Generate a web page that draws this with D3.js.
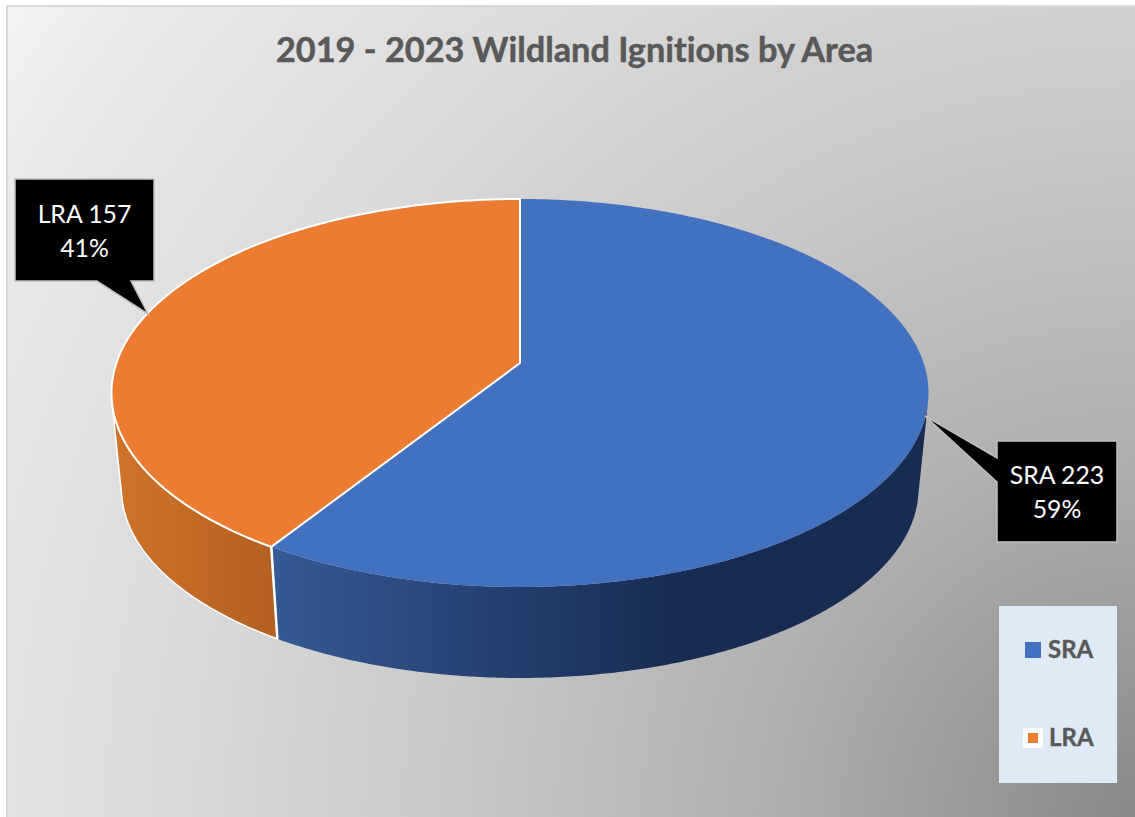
<!DOCTYPE html>
<html>
<head>
<meta charset="utf-8">
<script src="https://cdn.jsdelivr.net/npm/d3@7"></script>
<style>
html, body { margin: 0; padding: 0; background: #fff; }
text { font-family: Lato, "Open Sans", sans-serif; font-variant-ligatures: none; }
</style>
</head>
<body>
<div id="chart"></div>
<script>
var categories = ["SRA", "LRA"];
var counts = [223, 157];
//the slices follow the printed percentages
var shares = [59, 41];
var chartTitle = "2019 - 2023 Wildland Ignitions by Area";
var colors = ["#4271C0", "#EB7C31"];

var width = 1135, height = 817;

//pie geometry
var cx = 520, apexY = 363, backY = 199, frontY = 587, ellipseRx = 408.5;
var frontDist = frontY - apexY, backDist = apexY - backY;
var k = (frontDist - backDist) / (frontDist + backDist);
var scaleY = frontDist * (1 - k);
var scaleX = ellipseRx * Math.sqrt(1 - k * k);

//lower face of the slab is a bit smaller, it runs toward a far vanishing point
var vanishY = 4300, depthT = 0.0245;

//angle 0 = top, clockwise, same as d3.pie
function topPoint(a)
{
    var u = Math.sin(a), v = -Math.cos(a);
    var w = 1 - k * v;
    return [cx + scaleX * u / w, apexY + scaleY * v / w];
}
function bottomPoint(a)
{
    var p = topPoint(a);
    return [p[0] + depthT * (cx - p[0]), p[1] + depthT * (vanishY - p[1])];
}
function samples(a0, a1)
{
    var n = Math.ceil(Math.abs(a1 - a0) / 0.01);
    return d3.range(n + 1).map(function(i){ return a0 + (a1 - a0) * i / n; });
}
//is the wall at this angle turned toward the viewer
function facesViewer(a)
{
    var p = topPoint(a), next = topPoint(a + 0.001), q = bottomPoint(a);
    return (next[0] - p[0]) * (q[1] - p[1]) - (next[1] - p[1]) * (q[0] - p[0]) < 0;
}

var svg = d3.select("#chart").append("svg")
    .attr("width", width)
    .attr("height", height)
    .style("display", "block");

var defs = svg.append("defs");

function addGradient(type, id, attrs, stops)
{
    var g = defs.append(type).attr("id", id);
    Object.keys(attrs).forEach(function(key){ g.attr(key, attrs[key]); });
    stops.forEach(function(s){
        g.append("stop").attr("offset", s[0]).attr("stop-color", s[1]);
    });
}

//background is darkest in the lower right corner and fades out from there
addGradient("radialGradient", "bg", {gradientUnits: "userSpaceOnUse", cx: 1135, cy: 817, r: 1390},
    [[0, "#888888"], [0.27, "#B0B0B0"], [0.5, "#C9C9C9"], [0.61, "#D2D2D2"],
     [0.68, "#D9D9D9"], [0.81, "#E2E2E2"], [0.92, "#EAEAEA"], [1, "#F3F3F3"]]);
addGradient("linearGradient", "sideBlue", {gradientUnits: "userSpaceOnUse", x1: 277, y1: 0, x2: 680, y2: 0},
    [[0, "#355993"], [1, "#182B52"]]);
addGradient("linearGradient", "sideOrange", {gradientUnits: "userSpaceOnUse", x1: 113, y1: 0, x2: 277, y2: 0},
    [[0, "#D0732A"], [1, "#B26021"]]);

//chart area
svg.append("rect")
    .attr("x", 7).attr("y", 6)
    .attr("width", width - 6).attr("height", height - 5)
    .attr("fill", "url(#bg)")
    .attr("stroke", "#D9D9D9")
    .attr("stroke-width", 2);

svg.append("text")
    .attr("x", 574.5).attr("y", 62)
    .attr("text-anchor", "middle")
    .attr("font-size", 34.3)
    .attr("font-weight", 700)
    .attr("fill", "#595959")
    .attr("stroke", "#595959")
    .attr("stroke-width", 0.5)
    .text(chartTitle);

var arcs = d3.pie().sort(null)(shares);
var line = d3.line();

//walls first, only the part that faces the viewer
var sideFill = ["url(#sideBlue)", "url(#sideOrange)"];
var sideStroke = [null, "#fff"];
arcs.forEach(function(d, i){
    var angles = samples(d.startAngle, d.endAngle).filter(facesViewer);
    var pts = angles.map(topPoint).concat(angles.slice().reverse().map(bottomPoint));
    svg.append("path")
        .attr("d", line(pts) + "Z")
        .attr("fill", sideFill[i])
        .attr("stroke", sideStroke[i])
        .attr("stroke-width", 1.5);
});

//seam between the two walls
svg.append("path")
    .attr("d", line([topPoint(arcs[1].startAngle), bottomPoint(arcs[1].startAngle)]))
    .attr("stroke", "#fff")
    .attr("stroke-width", 2.5);

//top faces
var faceStroke = ["none", "#fff"];
arcs.forEach(function(d, i){
    var pts = samples(d.startAngle, d.endAngle).map(topPoint);
    pts.push([cx, apexY]);
    svg.append("path")
        .attr("d", line(pts) + "Z")
        .attr("fill", colors[i])
        .attr("stroke", faceStroke[i])
        .attr("stroke-width", 2)
        .attr("stroke-linejoin", "round");
});

//callouts: box, then the tail up to the slice edge
var callouts = [
    {x: 997, y: 441, w: 120, h: 101, tail: [[997, 458], [925, 416], [997, 482]], base: 43},
    {x: 15, y: 179, w: 139, h: 102, tail: [[131, 281], [148, 314], [97, 281]], base: 44}
];
callouts.forEach(function(c, i){
    var b = [[c.x, c.y], [c.x + c.w, c.y], [c.x + c.w, c.y + c.h], [c.x, c.y + c.h]];
    var shape;
    if(i == 0)
        shape = [b[0], b[1], b[2], b[3]].concat(c.tail.slice().reverse());
    else
        shape = [b[0], b[1], b[2]].concat(c.tail).concat([b[3]]);
    svg.append("path")
        .attr("d", line(shape) + "Z")
        .attr("fill", "#000")
        .attr("stroke", "#BFBFBF")
        .attr("stroke-width", 1.5);
    var tx = c.x + c.w / 2;
    svg.append("text")
        .attr("x", tx).attr("y", c.y + c.base)
        .attr("text-anchor", "middle")
        .attr("font-size", 24.8)
        .attr("fill", "#fff")
        .text(categories[i] + " " + counts[i]);
    svg.append("text")
        .attr("x", tx).attr("y", c.y + c.base + 34)
        .attr("text-anchor", "middle")
        .attr("font-size", 24.8)
        .attr("fill", "#fff")
        .text(shares[i] + "%");
});

//legend
svg.append("rect")
    .attr("x", 999).attr("y", 606)
    .attr("width", 118).attr("height", 177)
    .attr("fill", "#DEEAF6");

var legendY = d3.scalePoint().domain(categories).range([650, 738]);
var legend = svg.selectAll("g.legend")
    .data(categories)
    .enter()
    .append("g")
    .attr("class", "legend")
    .attr("transform", function(d){ return "translate(0," + legendY(d) + ")"; });

//LRA marker sits on a white selection handle
legend.filter(function(d, i){ return i == 1; })
    .append("rect")
    .attr("x", 1023).attr("y", -10)
    .attr("width", 20).attr("height", 20)
    .attr("rx", 3)
    .attr("fill", "#fff");

legend.append("rect")
    .attr("x", function(d, i){ return i == 0 ? 1025 : 1028; })
    .attr("y", function(d, i){ return i == 0 ? -8 : -5; })
    .attr("width", function(d, i){ return i == 0 ? 16 : 10; })
    .attr("height", function(d, i){ return i == 0 ? 16 : 10; })
    .attr("fill", function(d, i){ return colors[i]; });

legend.append("text")
    .attr("x", function(d, i){ return i == 0 ? 1048 : 1049; })
    .attr("y", 8)
    .attr("font-size", 24)
    .attr("font-weight", 700)
    .attr("fill", "#595959")
    .attr("stroke", "#595959")
    .attr("stroke-width", 0.4)
    .text(function(d){ return d; });
</script>
</body>
</html>
